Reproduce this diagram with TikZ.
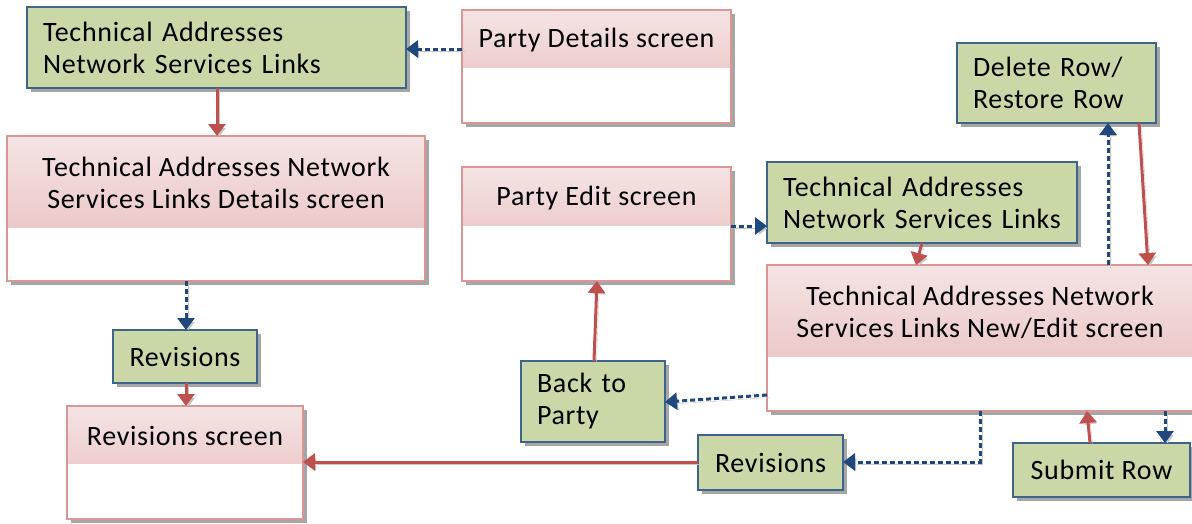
\documentclass[tikz,border=0pt]{standalone}
\usepackage{fontspec}
\setmainfont{Carlito}[LetterSpace=2.5]
\usetikzlibrary{calc,shadows,arrows.meta}
\definecolor{gfill}{RGB}{201,216,166}
\definecolor{gborder}{RGB}{62,100,140}
\definecolor{pborder}{RGB}{217,150,148}
\definecolor{ptop}{RGB}{245,228,228}
\definecolor{pbot}{RGB}{230,185,184}
\definecolor{redarrow}{RGB}{192,80,77}
\definecolor{bluearrow}{RGB}{31,73,125}
\tikzset{
  txt/.style={font=\fontsize{28pt}{32pt}\selectfont, inner sep=0pt},
  boxshadow/.style={drop shadow={shadow xshift=4pt, shadow yshift=-4pt, fill=black, opacity=0.35}},
  greenbox/.style={txt, draw=gborder, line width=1.3pt, fill=gfill, boxshadow, anchor=north west, outer sep=0pt},
  screenbox/.style={draw=pborder, line width=1.3pt, fill=white, boxshadow, anchor=north west, inner sep=0pt, outer sep=0pt,
    path picture={\shade[top color=ptop, bottom color=pbot] (path picture bounding box.north west) rectangle ([yshift=-#1]path picture bounding box.north east);}},
  lineshadow/.style={preaction={draw=black!22, transform canvas={shift={(2.5pt,-2.5pt)}}}},
  redline/.style={lineshadow, draw=redarrow, line width=3pt, -{Triangle[width=17pt,length=12pt]}},
  blueline/.style={lineshadow, draw=bluearrow, line width=3pt, dash pattern=on 5pt off 3pt, -{Triangle[width=17pt,length=12pt]}},
}
\begin{document}
\begin{tikzpicture}[x=1pt,y=-1pt]
\useasboundingbox (0,0) rectangle (1192,523);
% green boxes
\node[greenbox, minimum width=379pt, minimum height=81pt, text width=347pt, align=left, inner xsep=16pt] (g1) at (27,7) {Technical Addresses\\Network Services Links};
\node[greenbox, minimum width=144pt, minimum height=53pt, align=center] (rev1) at (113,330) {Revisions};
\node[greenbox, minimum width=310pt, minimum height=81pt, text width=278pt, align=left, inner xsep=16pt] (g2) at (767,162) {Technical Addresses\\Network Services Links};
\node[greenbox, minimum width=199pt, minimum height=80pt, text width=167pt, align=left, inner xsep=16pt] (del) at (957,43) {Delete Row/\\Restore Row};
\node[greenbox, minimum width=144pt, minimum height=81pt, text width=112pt, align=left, inner xsep=16pt] (bp) at (521,361) {Back to\\Party};
\node[greenbox, minimum width=145pt, minimum height=55pt, align=center] (rev2) at (698,435) {Revisions};
\node[greenbox, minimum width=177pt, minimum height=54pt, align=center] (sub) at (1013,443) {Submit Row};
% screens
\node[screenbox=57pt, minimum width=269pt, minimum height=113pt] (pd) at (462,10) {};
\node[txt] (pdt) at ($(pd.north)+(0,30)$) {Party Details screen};
\node[screenbox=91pt, minimum width=418pt, minimum height=145pt] (det) at (7,136) {};
\node[txt, align=center] (dett) at ($(det.north)+(0,47)$) {Technical Addresses Network\\Services Links Details screen};
\node[screenbox=57pt, minimum width=236pt, minimum height=113pt] (rs) at (67,406) {};
\node[txt] (rst) at ($(rs.north)+(0,30)$) {Revisions screen};
\node[screenbox=58pt, minimum width=269pt, minimum height=114pt] (pe) at (462,167) {};
\node[txt] (pet) at ($(pe.north)+(0,31)$) {Party Edit screen};
\node[screenbox=91pt, minimum width=433pt, minimum height=146pt] (ne) at (767,265) {};
\node[txt, align=center] (net) at ($(ne.north west)+(213,47)$) {Technical Addresses Network\\Services Links New/Edit screen};
% connectors
\draw[blueline] ($(pd.north west)+(0,39)$) -- ($(g1.north east)+(0,42)$);
\draw[redline] ($(g1.south west)+(190,0)$) -- ($(det.north west)+(210,0)$);
\draw[blueline] ($(det.south west)+(179,0)$) -- ($(rev1.north west)+(73,0)$);
\draw[redline] ($(rev1.south west)+(73,0)$) -- ($(rs.north west)+(119,0)$);
\draw[blueline] ($(pe.north east)+(0,59)$) -- ($(g2.north west)+(0,64)$);
\draw[redline] ($(g2.south west)+(155,0)$) -- ($(ne.north west)+(149,0)$);
\draw[blueline] ($(ne.north west)+(341,0)$) -- ($(del.south west)+(151,0)$);
\draw[redline] ($(del.south west)+(182,0)$) -- ($(ne.north west)+(381,0)$);
\draw[blueline] ($(ne.north west)+(0,130)$) -- ($(bp.north east)+(0,41)$);
\draw[redline] ($(bp.north west)+(73,0)$) -- ($(pe.south west)+(135,0)$);
\draw[blueline] ($(ne.south west)+(213,0)$) |- ($(rev2.north east)+(0,27)$);
\draw[redline] ($(rev2.north west)+(0,27)$) -- ($(rs.north east)+(0,56)$);
\draw[redline] ($(sub.north west)+(77,0)$) -- ($(ne.south west)+(320,0)$);
\draw[blueline] ($(ne.south west)+(398,0)$) -- ($(sub.north west)+(152,0)$);
\end{tikzpicture}
\end{document}
